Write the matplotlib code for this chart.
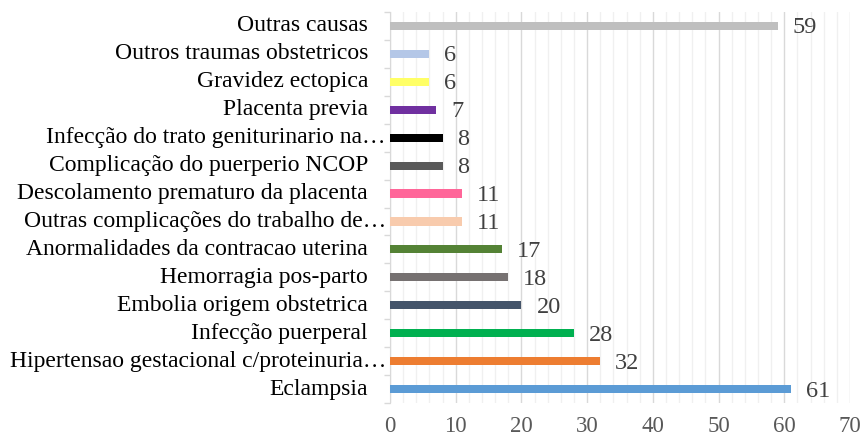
import matplotlib.pyplot as plt
import matplotlib.transforms as mtransforms
from matplotlib.ticker import MultipleLocator

plt.rcParams['font.family'] = ['Liberation Serif', 'DejaVu Serif']

causes = ['Eclampsia',
          'Hipertensao gestacional c/proteinuria…',
          'Infecção puerperal',
          'Embolia origem obstetrica',
          'Hemorragia pos-parto',
          'Anormalidades da contracao uterina',
          'Outras complicações do trabalho de…',
          'Descolamento prematuro da placenta',
          'Complicação do puerperio NCOP',
          'Infecção do trato geniturinario na…',
          'Placenta previa',
          'Gravidez ectopica',
          'Outros traumas obstetricos',
          'Outras causas']
counts = [61, 32, 28, 20, 18, 17, 11, 11, 8, 8, 7, 6, 6, 59]
colors = ['#5B9BD5', '#ED7D31', '#00B050', '#44546A', '#767171', '#548235',
          '#F8CBAD', '#FF6699', '#595959', '#000000', '#7030A0', '#FFFF66',
          '#B4C7E7', '#BFBFBF']

fig = plt.figure(figsize=(8.62, 4.38), dpi=100)
ax = fig.add_axes([390/862, 1 - 403/438, 460/862, 391/438])

ypos = list(range(len(causes)))
ax.barh(ypos, counts, height=0.29, color=colors, zorder=3)

ax.set_xlim(0, 70)
ax.set_ylim(-0.5, 13.5)
ax.xaxis.set_major_locator(MultipleLocator(10))
ax.xaxis.set_minor_locator(MultipleLocator(2))
ax.grid(axis='x', which='major', color='#D9D9D9', linewidth=1.0, zorder=0)
ax.grid(axis='x', which='minor', color='#F0F0F0', linewidth=1.0, zorder=0)
ax.tick_params(axis='x', which='both', length=0, labelsize=16.5, labelcolor='#595959', pad=9)

# y ticks at category boundaries, labels drawn as text
ax.set_yticks([y - 0.5 for y in range(len(causes) + 1)])
ax.set_yticklabels([])
ax.tick_params(axis='y', length=4, color='#D9D9D9', width=1)

for s in ['top', 'right', 'bottom']:
    ax.spines[s].set_visible(False)
ax.spines['left'].set_color('#D9D9D9')

lab_tr = mtransforms.blended_transform_factory(ax.transAxes, ax.transData)
for y, name in zip(ypos, causes):
    dx = -4 if name.endswith('…') else -22
    off = mtransforms.offset_copy(lab_tr, fig=fig, x=dx, y=0, units='dots')
    ax.text(0, y, name, transform=off, ha='right', va='center',
            fontsize=17, color='#000000')

for y, v in zip(ypos, counts):
    off = mtransforms.offset_copy(ax.transData, fig=fig, x=15, y=-2, units='dots')
    ax.text(v, y, str(v), transform=off, ha='left', va='center',
            fontsize=17.5, color='#404040')

fig.savefig('out.png', dpi=100)
